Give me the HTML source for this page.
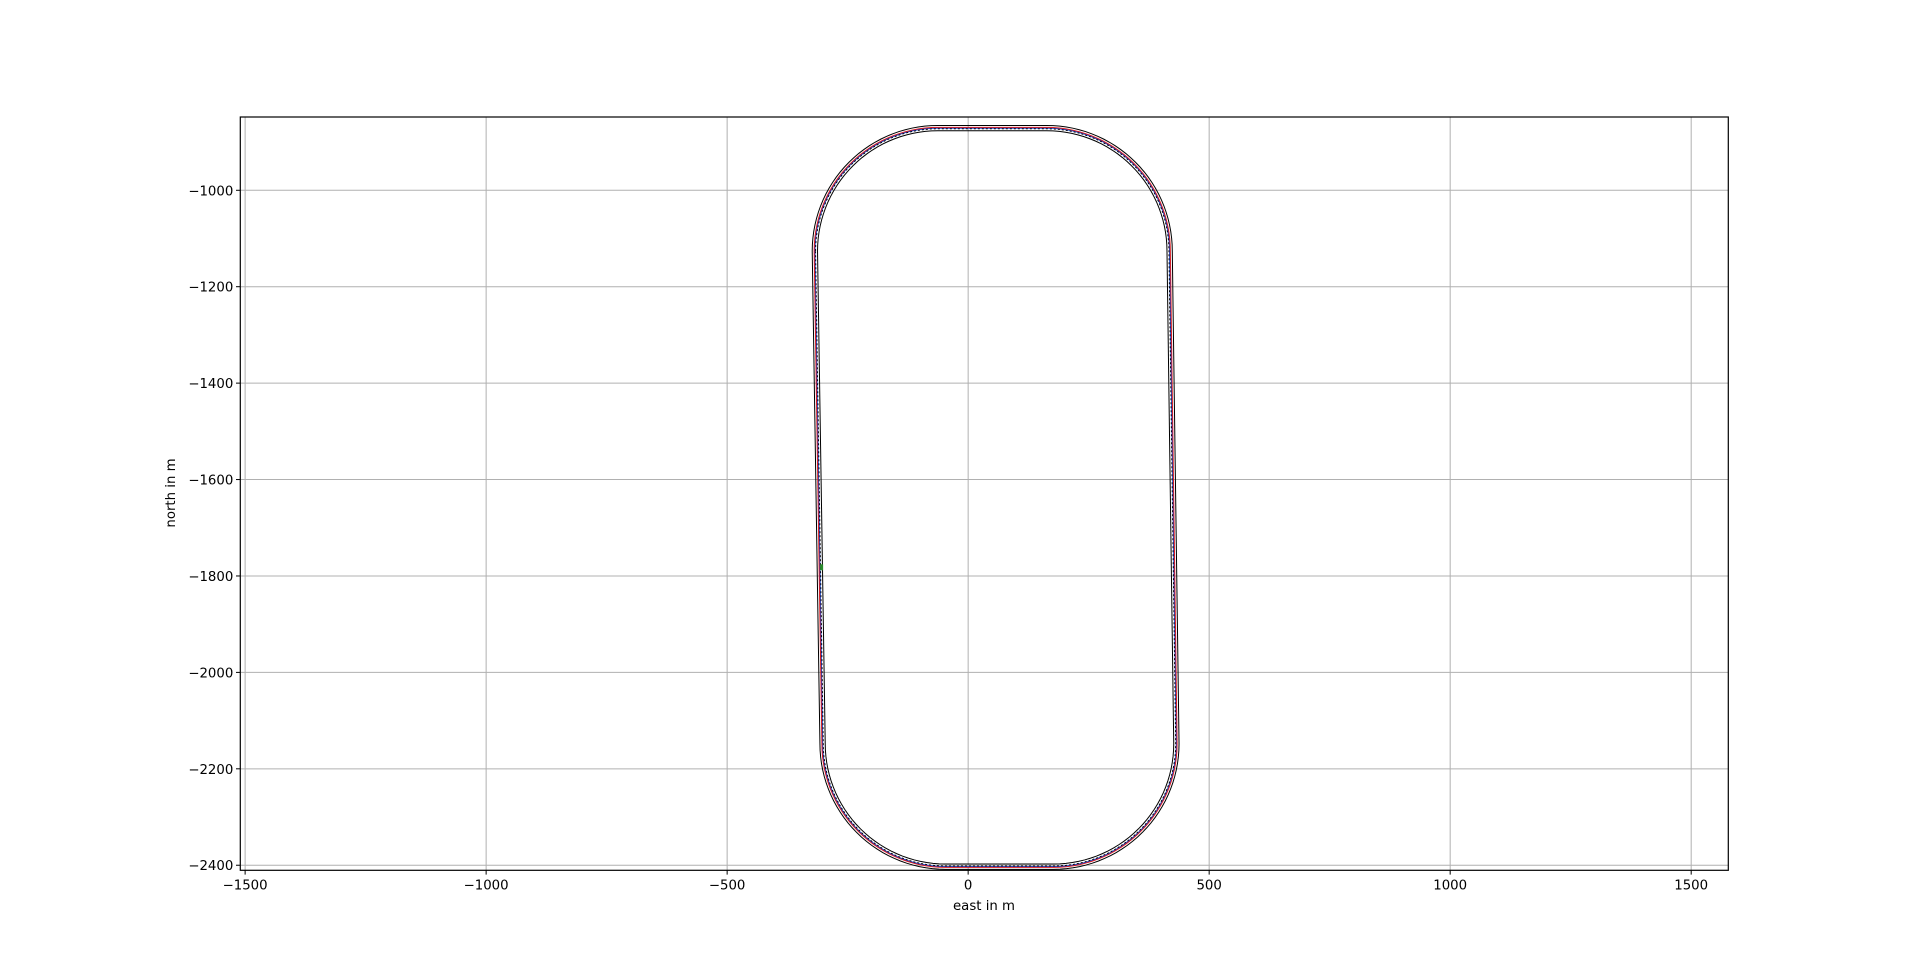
<!DOCTYPE html>
<html><head><meta charset="utf-8"><style>
body{margin:0;background:#fff;}
svg{display:block;font-family:"DejaVu Sans","Liberation Sans",sans-serif;}
</style></head><body>
<svg id="chart" width="1920" height="977" viewBox="0 0 1920 977" xmlns="http://www.w3.org/2000/svg">
<g id="grid"></g>
<g id="series"></g>
<rect x="240.3" y="117" width="1488" height="753.3" fill="none" stroke="#000" stroke-width="1.2"/>
<g id="ticks" font-size="13.3" fill="#000"></g>
<text x="984" y="910" font-size="13.3" text-anchor="middle">east in m</text>
<text x="175" y="493" font-size="13.3" text-anchor="middle" transform="rotate(-90 175 493)">north in m</text>
</svg>
<script>
const xTicks=[-1500,-1000,-500,0,500,1000,1500];
const yTicks=[-1000,-1200,-1400,-1600,-1800,-2000,-2200,-2400];
// track geometry (m)
const trackLeftTop=-318, trackLeftBottom=-302, trackRightTop=418, trackRightBottom=432;
const trackTop=-871, trackBottom=-2403, trackRadius=255;
const boundaryOffsets=[5.5,-5.5];
const redOffset=[1.5];
const blueOffset=[0];
const marker=[-304,-1782];

const X0=-1510,X1=1577,Y0=-848,Y1=-2410.5;
const PL=240.3,PR=1728.3,PT=117,PB=870.3;
const sx=v=>PL+(v-X0)/(X1-X0)*(PR-PL);
const sy=v=>PT+(Y0-v)/(Y0-Y1)*(PB-PT);
const NS='http://www.w3.org/2000/svg';
function mk(t,a,p){const e=document.createElementNS(NS,t);for(const k in a)e.setAttribute(k,a[k]);p.appendChild(e);return e;}
const grid=document.getElementById('grid'),ticks=document.getElementById('ticks'),series=document.getElementById('series');
xTicks.forEach(v=>{const x=sx(v);
 const g=mk('line',{x1:x,x2:x,y1:PT,y2:PB,stroke:'#b0b0b0','stroke-width':1},grid);
 
 const t=mk('line',{x1:x,x2:x,y1:PB,y2:PB+4.3,stroke:'#000','stroke-width':1},ticks);
 
 const l=mk('text',{x:x,y:PB+19,'text-anchor':'middle'},ticks);l.textContent=(v<0?'\u2212':'')+Math.abs(v);
 });
yTicks.forEach(v=>{const y=sy(v);
 const g=mk('line',{x1:PL,x2:PR,y1:y,y2:y,stroke:'#b0b0b0','stroke-width':1},grid);
 
 const t=mk('line',{x1:PL-4.3,x2:PL,y1:y,y2:y,stroke:'#000','stroke-width':1},ticks);
 
 const l=mk('text',{x:PL-7,y:y+5,'text-anchor':'end'},ticks);l.textContent=(v<0?'\u2212':'')+Math.abs(v);
 });
function trackPath(d){
 const R=trackRadius,r=R+d,pts=[];
 const arcs=[[trackLeftTop+R,trackTop-R,180,90],[trackRightTop-R,trackTop-R,90,0],[trackRightBottom-R,trackBottom+R,0,-90],[trackLeftBottom+R,trackBottom+R,-90,-180]];
 arcs.forEach(([cx,cy,a0,a1])=>{for(let i=0;i<=30;i++){const a=(a0+(a1-a0)*i/30)*Math.PI/180;pts.push([cx+r*Math.cos(a),cy+r*Math.sin(a)]);}});
 return 'M'+pts.map(p=>sx(p[0]).toFixed(2)+','+sy(p[1]).toFixed(2)).join('L')+'Z';
}
boundaryOffsets.forEach(d=>{const p=mk('path',{d:trackPath(d),fill:'none',stroke:'#000','stroke-width':1},series);
 });
const bl=mk('path',{d:trackPath(blueOffset[0]),fill:'none',stroke:'#1f4fd0','stroke-width':1.3},series);

const rd=mk('path',{d:trackPath(redOffset[0]),fill:'none',stroke:'#e00000','stroke-width':1,'stroke-opacity':0.85},series);

const cl=mk('path',{d:trackPath(-1.5),fill:'none',stroke:'#000','stroke-width':0.9,'stroke-dasharray':'2,2'},series);

const m=mk('rect',{x:sx(marker[0])-1.5,y:sy(marker[1])-3,width:3,height:6,fill:'#2a8a2a'},series);

</script>
</body></html>
